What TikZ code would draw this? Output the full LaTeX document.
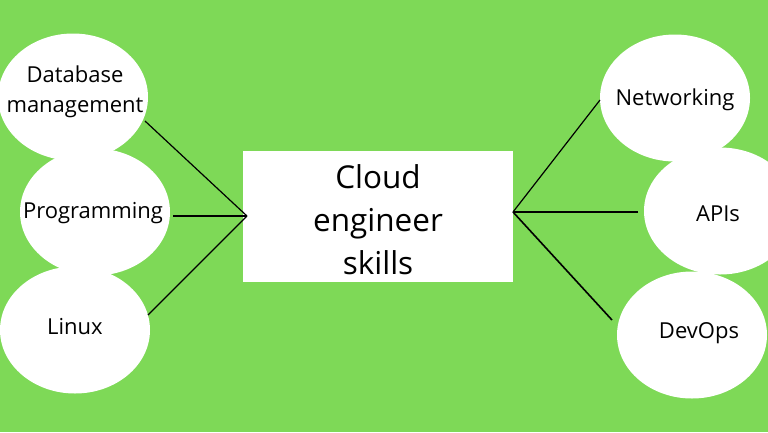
\documentclass[tikz,border=0pt]{standalone}
\usepackage{fontspec}
\setmainfont{Open Sans}
\definecolor{bggreen}{RGB}{126,217,87}
\usetikzlibrary{shapes.geometric}
\tikzset{
  blob/.style={ellipse, fill=white, minimum width=150pt, minimum height=127pt, inner sep=0pt},
  lbl/.style={inner sep=0pt, align=center, font=\fontsize{22}{30}\selectfont},
  centerbox/.style={rectangle, fill=white, minimum width=270pt, minimum height=131pt, inner sep=0pt, align=center, font=\fontsize{31.5}{43}\selectfont},
  link/.style={draw=black, line width=1.2pt}
}
\begin{document}
\begin{tikzpicture}[x=1pt,y=-1pt]
\fill[bggreen] (0,0) rectangle (768,432);
\useasboundingbox (0,0) rectangle (768,432);
\node[blob] (db) at (73,97) {};
\node[blob] (prog) at (95,212) {};
\node[blob] (linux) at (75,330) {};
\node[blob] (net) at (675,98) {};
\node[blob, minimum width=152pt] (api) at (720,211) {};
\node[blob] (dev) at (692,335) {};
\node[lbl] (dbt) at (75,92) {Database\\management};
\node[lbl] (progt) at (93,213) {Programming};
\node[lbl] (linuxt) at (75,327) {Linux};
\node[lbl] (nett) at (675,100) {Networking};
\node[lbl] (apit) at (718,214) {APIs};
\node[lbl] (devt) at (699,333) {DevOps};
\node[centerbox] (c) at (378,216) {};
\node[lbl, font=\fontsize{31.5}{43}\selectfont] (ct) at (378,220) {Cloud\\engineer\\skills};
\coordinate (jl) at (247,216);
\coordinate (jr) at (513,212);
\coordinate (edb) at (145,121);
\coordinate (eprog) at (173,216);
\coordinate (elin) at (148,315);
\coordinate (enet) at (600,100);
\coordinate (eapi) at (638,212);
\coordinate (edev) at (612,320);
\draw[link] (edb) -- (jl);
\draw[link] (eprog) -- (jl);
\draw[link] (elin) -- (jl);
\draw[link] (enet) -- (jr);
\draw[link] (eapi) -- (jr);
\draw[link, line width=1.6pt] (edev) -- (jr);
\end{tikzpicture}
\end{document}
